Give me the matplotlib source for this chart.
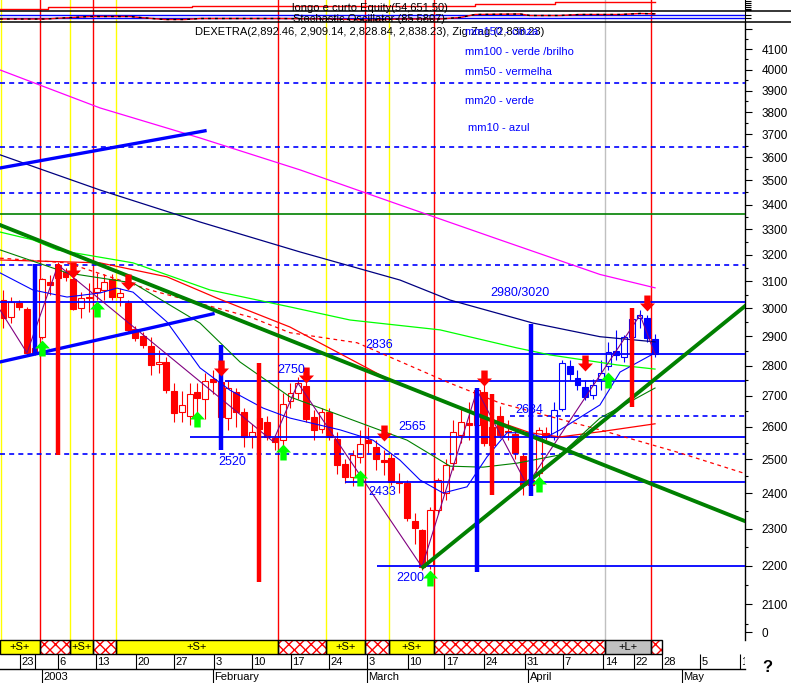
import numpy as np
import matplotlib
matplotlib.use('Agg')
import matplotlib.pyplot as plt
from matplotlib.patches import Rectangle
from matplotlib.lines import Line2D
from matplotlib.path import Path
from matplotlib.ticker import FixedLocator, NullFormatter

plt.rcParams['font.family'] = ['Liberation Sans', 'DejaVu Sans']

# daily candles (DAX Xetra, Dec 2002 - Apr 2003), index = trading day
opens = [3030, 2969, 3019, 2998, 2860, 2899, 3097, 3160, 3135, 3107,
         3001, 3041, 3060, 3067, 3107, 3041, 3019, 2926, 2902, 2867,
         2805, 2812, 2715, 2648, 2635, 2712, 2689, 2755, 2744, 2628,
         2712, 2648, 2572, 2628, 2616, 2566, 2559, 2683, 2708, 2731,
         2632, 2594, 2648, 2562, 2486, 2447, 2508, 2560, 2538, 2498,
         2505, 2433, 2430, 2321, 2296, 2201, 2352, 2400, 2489, 2575,
         2613, 2607, 2712, 2600, 2635, 2588, 2578, 2512, 2440, 2459,
         2582, 2569, 2657, 2797, 2758, 2728, 2702, 2755, 2800, 2850,
         2828, 2898, 2965, 2965, 2892.46]
highs = [3067, 3041, 3030, 3005, 2880, 3110, 3123, 3172, 3150, 3115,
         3060, 3093, 3130, 3125, 3125, 3075, 3030, 2935, 2915, 2899,
         2853, 2830, 2741, 2715, 2741, 2741, 2775, 2785, 2755, 2750,
         2725, 2660, 2610, 2650, 2635, 2575, 2710, 2741, 2762, 2745,
         2655, 2660, 2660, 2585, 2500, 2530, 2590, 2600, 2560, 2530,
         2520, 2460, 2440, 2345, 2300, 2360, 2445, 2500, 2622, 2660,
         2680, 2720, 2745, 2640, 2665, 2622, 2590, 2520, 2460, 2600,
         2600, 2680, 2820, 2820, 2785, 2751, 2755, 2820, 2880, 2923,
         2905, 2975, 2994, 2975, 2909.14]
lows = [2930, 2947, 2994, 2836, 2836, 2890, 3048, 3100, 3100, 2994,
        2965, 2987, 3030, 3030, 3030, 3010, 2915, 2885, 2860, 2768,
        2775, 2708, 2616, 2616, 2607, 2640, 2625, 2705, 2620, 2590,
        2600, 2538, 2535, 2560, 2560, 2530, 2545, 2660, 2690, 2615,
        2560, 2580, 2560, 2458, 2430, 2420, 2490, 2520, 2470, 2453,
        2425, 2400, 2320, 2258, 2188, 2190, 2340, 2380, 2470, 2550,
        2560, 2590, 2540, 2520, 2565, 2560, 2500, 2395, 2400, 2430,
        2560, 2560, 2650, 2751, 2718, 2686, 2689, 2718, 2785, 2820,
        2812, 2880, 2930, 2880, 2828.84]
closes = [2965, 3023, 3005, 2843, 2843, 3107, 3086, 3110, 3116, 2998,
          3037, 3037, 3075, 3097, 3041, 3056, 2923, 2895, 2870, 2802,
          2812, 2718, 2645, 2670, 2705, 2692, 2748, 2744, 2632, 2725,
          2648, 2569, 2585, 2594, 2569, 2553, 2673, 2708, 2741, 2625,
          2591, 2648, 2569, 2483, 2447, 2514, 2547, 2550, 2502, 2492,
          2433, 2430, 2329, 2301, 2196, 2352, 2440, 2483, 2585, 2616,
          2607, 2718, 2550, 2545, 2575, 2583, 2520, 2424, 2425, 2591,
          2569, 2654, 2810, 2772, 2735, 2695, 2735, 2775, 2845, 2835,
          2898, 2960, 2975, 2895, 2838.23]
first_blue = 71

# moving averages (read at sample days)
mm200_x = [-0.45, 12.44, 25.34, 38.23, 51.12, 64.02, 76.9, 84]
mm200_y = [3999, 3820, 3684, 3545, 3398, 3258, 3125, 3075]
mm150_x = [-0.45, 12.44, 25.34, 38.23, 51.12, 57.57, 68.27, 76.9, 84]
mm150_y = [3610, 3460, 3329, 3211, 3104, 3030, 2947, 2899, 2881]
mm100_x = [-0.45, 3.8, 6.9, 16.7, 26.63, 36.94, 44.67, 56.28, 66.21, 70.46, 79.1, 84]
mm100_y = [3289, 3258, 3219, 3169, 3067, 3005, 2958, 2923, 2860, 2836, 2802, 2788]
mm50_x = [-0.45, 12.44, 21.08, 27.53, 36.94, 49.83, 60.15, 67.88, 71.75, 76.9, 84]
mm50_y = [3180, 3169, 3116, 3037, 2933, 2751, 2648, 2582, 2569, 2585, 2610]
mm50d_x = [-0.45, 8.19, 18.89, 31.78, 36.94, 45.58, 57.57, 64.02, 76.9, 87.2, 95.6]
mm50d_y = [3187, 3169, 3067, 2969, 2913, 2878, 2741, 2676, 2591, 2520, 2458]
mm20_x = [-0.45, 8.19, 16.7, 25.34, 30.49, 36.94, 42.48, 52.03, 57.57, 61.82, 66.21, 71.75, 76.9, 84]
mm20_y = [3219, 3131, 3093, 2947, 2812, 2696, 2645, 2559, 2480, 2477, 2489, 2514, 2628, 2725]
mm10_x = [-0.45, 3.8, 8.19, 12.44, 14.63, 16.7, 21.08, 25.34, 29.2, 33.46, 36.94, 43.39,
          47.64, 51.12, 53.7, 56.67, 59.76, 62.34, 64.92, 67.5, 69.82, 71.75, 76.9, 79.49, 84]
mm10_y = [3131, 3067, 3041, 3056, 3074, 3059, 2951, 2792, 2718, 2660, 2628, 2591,
          2559, 2498, 2439, 2401, 2419, 2508, 2582, 2582, 2566, 2591, 2670, 2778, 2843]
zig_x = [-0.45, 3.03, 7.03, 34.75, 37.97, 53.96, 61.05, 67.5, 82.07, 84]
zig_y = [2994, 2843, 3161, 2555, 2741, 2196, 2718, 2424, 2976, 2838.23]

# trend lines
tl_down = ([-0.45, 95.6], [3317, 2321])
tl_up = ([54.09, 95.6], [2196, 3008])
tl_blue_hi = ([-0.45, 25.98], [3553, 3716])
tl_blue_lo = ([-0.45, 27.01], [2812, 2980])

# support / resistance levels: price, first day
lvl_solid = [3023, 2839, 2748, 2569, 2433, 2198]
lvl_solid_from = [-0.45, 4.71, 28.56, 24.05, 44.03, 48.16]
lvl_dash = [3937, 3645, 3448, 3161, 2635, 2517]
lvl_dash_from = [-0.45, -0.45, -0.45, -0.45, 65.3, -0.45]
lvl_green = 3361
lvl_labels = ['2980/3020', '2836', '2750', '2565', '2634', '2520', '2433', '2200']
lvl_lab_x = [62.73, 46.61, 35.26, 50.86, 65.95, 27.66, 47.0, 50.61]
lvl_lab_y = [3056, 2870, 2785, 2600, 2654, 2492, 2404, 2167]

# signal arrows
sell_x = [9, 16, 28, 39, 49, 62, 75, 83]
sell_y = [3142, 3097, 2792, 2768, 2582, 2758, 2808, 3019]
buy_x = [5, 12, 25, 36, 46, 55, 69, 78]
buy_y = [2860, 2998, 2625, 2523, 2445, 2167, 2427, 2751]

# zig zag swing bars
bar_blue_x = [4, 28, 61, 68]
bar_blue_lo = [2836, 2529, 2183, 2392]
bar_blue_hi = [3166, 2870, 2725, 2944]
bar_red_x = [7, 33, 63, 81]
bar_red_lo = [2514, 2156, 2395, 2664]
bar_red_hi = [3166, 2808, 2705, 3001]

# system signal segments
seg_edges = [-0.45, 4.71, 8.57, 11.54, 14.5, 35.39, 41.58, 46.61, 49.7, 55.5, 77.55, 83.48, 84.9]
seg_kind = ['S', 'x', 'S', 'x', 'S', 'x', 'S', 'x', 'S', 'x', 'L', 'x']

# equity and stochastic
eq_x = [-0.45, 5.74, 24.3, 60.8, 71.1, 84]
eq_v = [34840, 40480, 44200, 49840, 54651.5, 54651.5]
st_x = [-0.45, 5.35, 11.15, 16.31, 17.6, 20.82, 23.4, 25.34, 35.65, 42.1, 47.25, 51.12,
        56.28, 58.86, 60.8, 66.6, 67.88, 71.75, 74.33, 79.49, 82.07, 84]
st_v = [16.7, 16.7, 50, 50, 36.7, 10, 10, 23.3, 23.3, 16.7, 3.3, 16.7,
        16.7, 36.7, 76.7, 83.3, 63.3, 63.3, 76.7, 76.7, 90, 85.58]

# calendar
day_ticks = [2.13, 4.06, 6.99, 11.93, 17.08, 21.98, 27.14, 32.04, 37.07, 41.97, 46.87, 52.15,
             56.8, 61.95, 67.24, 72.14, 77.3, 81.29, 84.9, 89.8, 94.96]
day_labels = ['23', '', '6', '13', '20', '27', '3', '10', '17', '24', '3', '10',
              '17', '24', '31', '7', '14', '22', '28', '5', '12']
month_ticks = [4.96, 27.01, 46.87, 67.62, 87.48]
month_labels = ['2003', 'February', 'March', 'April', 'May']

W, H = 791, 683
XL = (-0.45, 95.6)
RED = '#ff0000'
BLUE = '#0000ff'
fig = plt.figure(figsize=(W / 100, H / 100), dpi=100)
fig.patch.set_facecolor('white')
AW = 745 / W


def box(y0, y1):
    return [0, 1 - y1 / H, AW, (y1 - y0) / H]


ax = fig.add_axes(box(22, 640))
ax_eq = fig.add_axes(box(0, 11))
ax_st = fig.add_axes(box(11, 22))
ax_sig = fig.add_axes(box(640, 654))
ax_day = fig.add_axes(box(654, 669))
ax_mon = fig.add_axes(box(669, 683))

# vertical signal lines across the panels
vl_x = [-0.3, 4.71, 8.57, 11.54, 14.5, 35.39, 41.58, 46.61, 49.7, 55.5, 77.55, 83.48]
vl_c = ['#ffff00', RED, '#ffff00', RED, '#ffff00', RED, '#ffff00', RED, '#ffff00', RED, '#c0c0c0', RED]
for a in (ax, ax_eq, ax_st):
    for xv, cv in zip(vl_x, vl_c):
        a.axvline(xv, color=cv, lw=1, zorder=1)

# ---- main price panel
ax.set_yscale('log')
ax.set_xlim(*XL)
ax.set_ylim(2011, 4237)

for i in range(len(opens)):
    col = RED if i < first_blue else BLUE
    o, h, l, c = opens[i], highs[i], lows[i], closes[i]
    ax.vlines(i, l, h, color=col, lw=0.8, zorder=2)
    lo_b, hi_b = min(o, c), max(o, c)
    fc = col if c < o else 'white'
    ax.add_patch(Rectangle((i - 0.38, lo_b), 0.76, max(hi_b - lo_b, 1.5),
                           facecolor=fc, edgecolor=col, lw=0.8, zorder=2))

ax.hlines(lvl_solid, lvl_solid_from, XL[1], colors=BLUE, lw=1.3, zorder=3)
ax.hlines(lvl_dash, lvl_dash_from, XL[1], colors=BLUE, lw=1.2,
          linestyles=(0, (3, 2.5)), zorder=3)
ax.axhline(lvl_green, color='#008000', lw=1.2, zorder=3)

ax.plot(mm200_x, mm200_y, color='#ff00ff', lw=0.9, zorder=3)
ax.plot(mm150_x, mm150_y, color='#000080', lw=0.9, zorder=3)
ax.plot(mm100_x, mm100_y, color='#00ff00', lw=0.9, zorder=3)
ax.plot(mm50_x, mm50_y, color=RED, lw=0.9, zorder=3)
ax.plot(mm50d_x, mm50d_y, color=RED, lw=0.9, ls=(0, (3, 3)), zorder=3)
ax.plot(mm20_x, mm20_y, color='#008000', lw=0.8, zorder=3)
ax.plot(mm10_x, mm10_y, color=BLUE, lw=0.8, zorder=3)
ax.plot(zig_x, zig_y, color='#800080', lw=0.8, zorder=3)

ax.plot(*tl_down, color='#008000', lw=2.8, zorder=4)
ax.plot(*tl_up, color='#008000', lw=2.8, zorder=4)
ax.plot(*tl_blue_hi, color=BLUE, lw=2.4, zorder=4)
ax.plot(*tl_blue_lo, color=BLUE, lw=2.4, zorder=4)

ax.vlines(bar_blue_x, bar_blue_lo, bar_blue_hi, colors=BLUE, lw=3.2, zorder=4)
ax.vlines(bar_red_x, bar_red_lo, bar_red_hi, colors=RED, lw=3.2, zorder=4)

down = Path([(-0.2, 0.5), (0.2, 0.5), (0.2, 0.0), (0.47, 0.0), (0, -0.5),
             (-0.47, 0.0), (-0.2, 0.0), (-0.2, 0.5)], closed=True)
up = Path([(-0.2, -0.5), (0.2, -0.5), (0.2, 0.0), (0.47, 0.0), (0, 0.5),
           (-0.47, 0.0), (-0.2, 0.0), (-0.2, -0.5)], closed=True)
ax.plot(sell_x, sell_y, ls='none', marker=down, ms=11.5, mfc=RED, mec=RED, mew=0, zorder=5)
ax.plot(buy_x, buy_y, ls='none', marker=up, ms=11.5, mfc='#00ff00', mec='#00ff00', mew=0, zorder=5)

for t, xv, yv in zip(lvl_labels, lvl_lab_x, lvl_lab_y):
    ax.text(xv, yv, t, color=BLUE, fontsize=9, ha='left', va='center', zorder=6)

major = list(range(2100, 4201, 100))
ax.yaxis.tick_right()
ax.set_yticks([2030] + major)
ax.set_yticklabels(['0'] + [str(v) if v <= 4100 else '' for v in major])
ax.yaxis.set_minor_locator(FixedLocator([v + 50 for v in range(2000, 4200, 100)]))
ax.yaxis.set_minor_formatter(NullFormatter())
ax.tick_params(axis='y', which='major', length=5, width=0.8, labelsize=8.5, pad=7)
ax.tick_params(axis='y', which='minor', length=2.5, width=0.8)
ax.set_xticks([])
for s in ('left', 'top', 'bottom'):
    ax.spines[s].set_visible(False)
ax.spines['right'].set_linewidth(1)

# ---- equity panel
ax_eq.set_xlim(*XL)
ax_eq.set_ylim(30000, 61200)
ax_eq.plot(eq_x, eq_v, drawstyle='steps-post', color=RED, lw=1, zorder=3)
ax_eq.set_xticks([])
ax_eq.yaxis.tick_right()
ax_eq.set_yticks([32000, 37000, 42000, 47000, 52000, 57000])
ax_eq.set_yticklabels([])
ax_eq.tick_params(axis='y', length=4, width=0.8)
for s in ('left', 'top', 'bottom'):
    ax_eq.spines[s].set_visible(False)

# ---- stochastic panel
ax_st.set_xlim(*XL)
ax_st.set_ylim(-23.3, 123.3)
ax_st.axhline(70, color=BLUE, lw=1, zorder=2)
ax_st.axhline(30, color=BLUE, lw=1, zorder=2)
ax_st.plot(st_x, st_v, color=RED, lw=1, zorder=3)
ax_st.plot(st_x, st_v, color='black', lw=1, ls=(0, (2, 3)), zorder=3)
ax_st.set_xticks([])
ax_st.yaxis.tick_right()
ax_st.set_yticks([30, 70])
ax_st.set_yticklabels([])
ax_st.tick_params(axis='y', length=4, width=0.8)
for s in ('left', 'top', 'bottom'):
    ax_st.spines[s].set_visible(False)

for yy in (11, 22):
    fig.add_artist(Line2D([0, 1], [1 - yy / H, 1 - yy / H], color='black', lw=1.1))

fig.text(370 / W, 1 - 8 / H, 'longo e curto Equity(54,651.50)', fontsize=8,
         ha='center', va='center')
fig.text(369 / W, 1 - 19 / H, 'Stochastic Oscillator (85.5807)', fontsize=8,
         ha='center', va='center')
fig.text(195 / W, 1 - 32 / H,
         'DEXETRA(2,892.46, 2,909.14, 2,828.84, 2,838.23), Zig Zag (2,838.23)',
         fontsize=8, ha='left', va='center')
ma_text = ['mm150 - cinza', 'mm100 - verde /brilho', 'mm50 - vermelha', 'mm20 - verde', 'mm10 - azul']
ma_tx = [465, 465, 465, 465, 468]
ma_ty = [32, 52, 72, 101, 128]
for t, xx, yy in zip(ma_text, ma_tx, ma_ty):
    fig.text(xx / W, 1 - yy / H, t, color=BLUE, fontsize=8, ha='left', va='center')

# ---- signal bar
ax_sig.set_xlim(*XL)
ax_sig.set_ylim(0, 1)
ax_sig.axis('off')
for k, kind in enumerate(seg_kind):
    x0, x1 = seg_edges[k], seg_edges[k + 1]
    if kind == 'x':
        ax_sig.add_patch(Rectangle((x0, 0), x1 - x0, 1, facecolor='white', edgecolor=RED,
                                   hatch='xxx', lw=0, zorder=1))
    else:
        fc = '#ffff00' if kind == 'S' else '#c0c0c0'
        ax_sig.add_patch(Rectangle((x0, 0), x1 - x0, 1, facecolor=fc, lw=0, zorder=1))
        ax_sig.text((x0 + x1) / 2, 0.5, '+%s+' % kind, fontsize=8, ha='center', va='center', zorder=3)
    ax_sig.add_patch(Rectangle((x0, 0), x1 - x0, 1, facecolor='none', edgecolor='black',
                               lw=1, zorder=2, clip_on=False))

# ---- calendar rows
ax_day.set_xlim(*XL)
ax_day.set_ylim(0, 1)
ax_day.axis('off')
ax_day.vlines(day_ticks, 0, 1, colors='black', lw=0.8)
ax_day.axhline(0, color='black', lw=1, clip_on=False)
for xv, t in zip(day_ticks, day_labels):
    ax_day.text(xv + 0.2, 0.45, t, fontsize=8, ha='left', va='center', clip_on=True)

ax_mon.set_xlim(*XL)
ax_mon.set_ylim(0, 1)
ax_mon.axis('off')
ax_mon.vlines(month_ticks, 0, 1, colors='black', lw=0.8)
for xv, t in zip(month_ticks, month_labels):
    ax_mon.text(xv + 0.2, 0.45, t, fontsize=8, ha='left', va='center')

fig.text(767 / W, 1 - 668 / H, '?', fontsize=12, fontweight='bold', ha='center', va='center')

fig.savefig('out.png', dpi=100, facecolor='white')
